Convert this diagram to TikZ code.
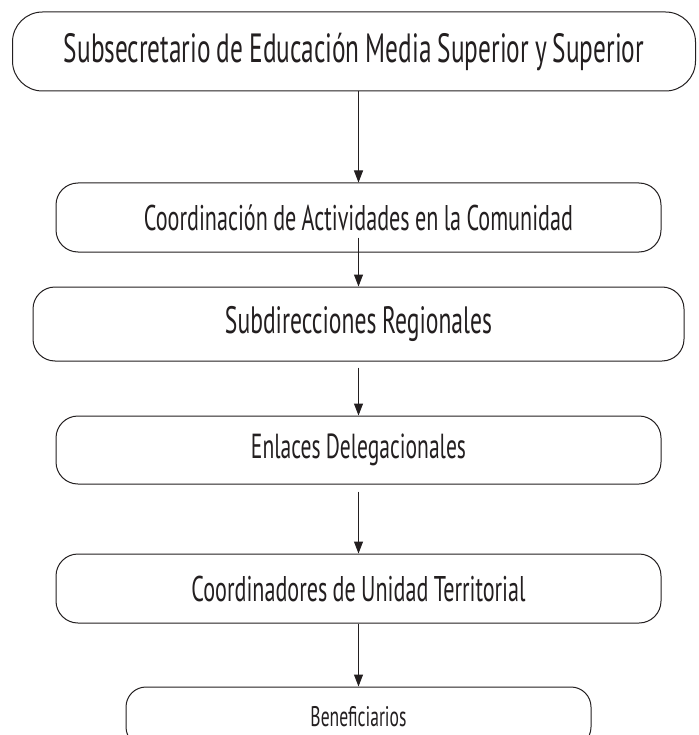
\documentclass[tikz,border=0pt]{standalone}
\usepackage{fontspec}
\setmainfont{PT Sans}[FakeStretch=0.62, WordSpace=0.9]
\usetikzlibrary{arrows.meta}
\definecolor{ink}{HTML}{231F20}
\newcommand{\fitw}[2]{\resizebox{#1}{!}{#2}}
\begin{document}
\begin{tikzpicture}[x=1pt,y=-1pt,
  box/.style={draw=ink, line width=1pt, rounded corners=22pt, inner sep=0pt, text=ink, align=center},
  conn/.style={draw=ink, line width=1pt, -{Triangle[length=12pt,width=9pt]}}]
\clip (0,0) rectangle (698,735);
\fill[white] (0,0) rectangle (698,735);
\node[box, rounded corners=30pt, minimum width=683pt, minimum height=79pt] (b1) at (354,51.5)
  {\fitw{580pt}{Subsecretario de Educación Media Superior y Superior}};
\node[box, minimum width=605pt, minimum height=69pt] (b2) at (358.5,217.5)
  {\fitw{429pt}{Coordinación de Actividades en la Comunidad}};
\node[box, minimum width=651pt, minimum height=74pt] (b3) at (358.5,324)
  {\fitw{267pt}{Subdirecciones Regionales}};
\node[box, minimum width=605pt, minimum height=68pt] (b4) at (358.5,450)
  {\fitw{215pt}{Enlaces Delegacionales}};
\node[box, minimum width=605pt, minimum height=69pt] (b5) at (358.5,588.5)
  {\fitw{334pt}{Coordinadores de Unidad Territorial}};
\node[box, rounded corners=20pt, minimum width=465pt, minimum height=60pt] (b6) at (358.5,717)
  {\fitw{96pt}{Beneficiarios}};
\draw[conn] (b1.south -| b2.north) -- (b2.north);
\draw[conn] ([yshift=15pt]b2.south) -- (b3.north);
\draw[conn] ([yshift=-6pt]b3.south) -- (b4.north);
\draw[conn] ([yshift=-7pt]b4.south) -- (b5.north);
\draw[conn] (b5.south) -- (b6.north);
\end{tikzpicture}
\end{document}
